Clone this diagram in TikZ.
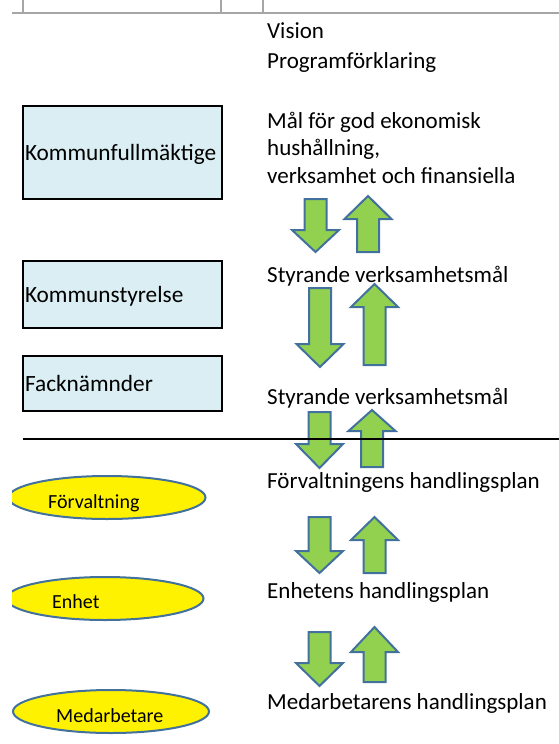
\documentclass[tikz,border=0pt]{standalone}
\usepackage{fontspec}
\setmainfont{Carlito}
\usetikzlibrary{shapes.geometric}
\definecolor{ljusbla}{HTML}{DAEEF3}
\definecolor{pilgron}{HTML}{92D050}
\definecolor{kantbla}{HTML}{41719C}
\definecolor{rutgra}{HTML}{A6A6A6}
\newcommand{\text}{black}
% blockpil: x, bas, huvud, spets
\newcommand{\blockpil}[4]{%
  \draw[pil] (#1-11,#2) -- (#1+11,#2) -- (#1+11,#3) -- (#1+23.5,#3) -- (#1,#4)
    -- (#1-23.5,#3) -- (#1-11,#3) -- cycle;}

\begin{document}
\begin{tikzpicture}[x=1pt,y=-1pt,
    organ/.style={rectangle, draw=black, line width=1.4pt, fill=ljusbla,
      minimum width=199, text width=195, inner xsep=2, align=left,
      text height=16, text depth=0, font=\fontsize{23.3}{27}\selectfont},
    oval/.style={ellipse, draw=kantbla, line width=2pt, fill=yellow,
      minimum width=197, minimum height=43, inner sep=0},
    ovaltext/.style={anchor=base west, inner sep=0, text=\text,
      font=\fontsize{20}{24}\selectfont},
    niva/.style={anchor=base west, inner sep=0, text=\text, align=left,
      font=\fontsize{23}{27.5}\selectfont},
    pil/.style={draw=kantbla, line width=2pt, fill=pilgron},
    rutlinje/.style={draw=rutgra, line width=1.5pt}]
    \useasboundingbox (0,0) rectangle (559,744);

    \draw[rutlinje] (12,13) -- (559,13);
    \foreach \x in {23,221,263}
        \draw[rutlinje] (\x,0) -- (\x,13);

    \node[organ, minimum height=93] (kf) at (122.5,152.5) {Kommunfullmäktige};
    \node[organ, minimum height=67] (ks) at (122.5,294.5) {Kommunstyrelse};
    \node[organ, minimum height=55] (fn) at (122.5,383.5) {Facknämnder};

    \begin{scope}
        \clip (12,0) rectangle (559,744);
        \node[oval] (forv) at (107,497.5) {};
        \node[oval] (enh) at (105,598.5) {};
        \node[oval, minimum width=196] (medarb) at (111,711.5) {};
    \end{scope}
    \node[ovaltext] (forvtxt) at (48,508) {Förvaltning};
    \node[ovaltext] (enhtxt) at (52,608) {Enhet};
    \node[ovaltext] (medarbtxt) at (56,722) {Medarbetare};

    \node[niva] (vision) at (267,38) {Vision};
    \node[niva] (program) at (267,68) {Programförklaring};
    % base = sista radens baslinje
    \node[niva] (mal) at (267,183) {Mål för god ekonomisk\\hushållning,\\verksamhet och finansiella};
    \node[niva] (styr1) at (267,282) {Styrande verksamhetsmål};
    \node[niva] (styr2) at (267,404) {Styrande verksamhetsmål};
    \node[niva] (forvplan) at (267,488) {Förvaltningens handlingsplan};
    \node[niva] (enhplan) at (267,598) {Enhetens handlingsplan};
    \node[niva] (medarbplan) at (267,709) {Medarbetarens handlingsplan};

    \blockpil{315.5}{199}{230}{252}
    \blockpil{368}{252}{219}{196}
    \blockpil{320}{288}{344}{367}
    \blockpil{374.5}{365}{307}{284}
    \blockpil{319.5}{412}{444}{468}
    \blockpil{372}{467}{431}{410}
    \blockpil{319.5}{517}{551}{573}
    \blockpil{374.5}{573}{540}{517}
    \blockpil{319.5}{632}{663}{686}
    \blockpil{374.5}{682}{652}{627}

    \draw[line width=2.6pt] (23,439) -- (559,439);
\end{tikzpicture}
\end{document}
